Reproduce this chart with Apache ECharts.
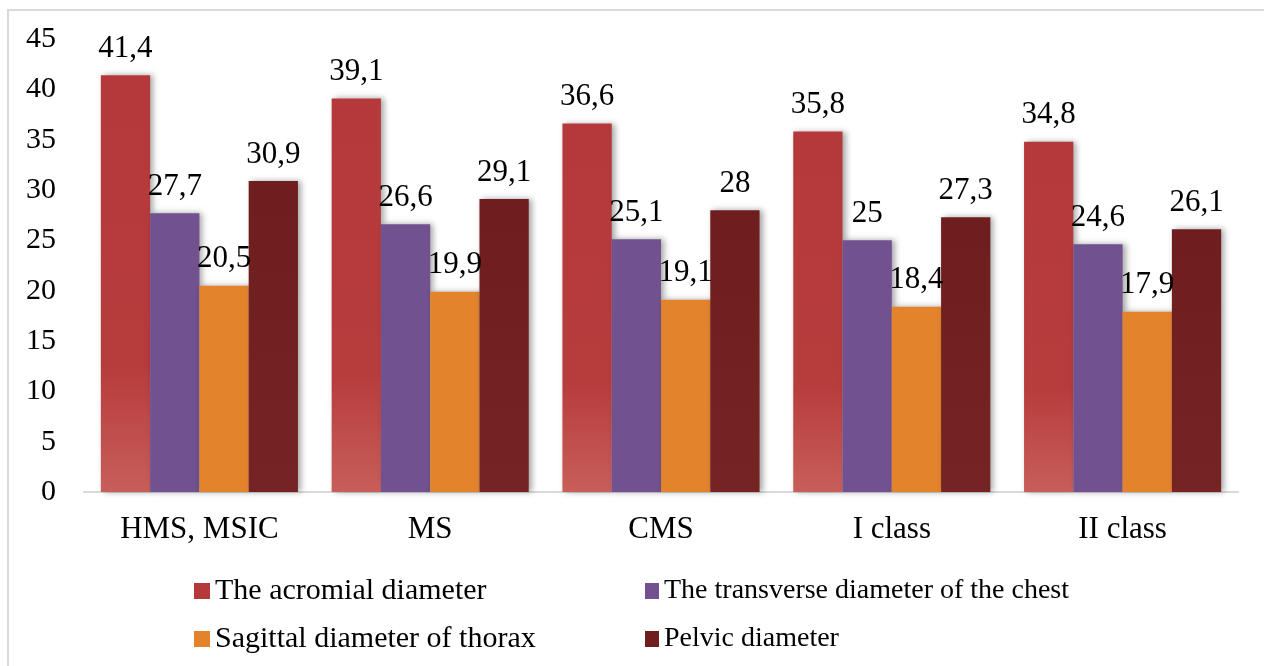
<!DOCTYPE html>
<html>
<head>
<meta charset="utf-8">
<style>
  html, body { margin: 0; padding: 0; background: #fff; }
  #chart { width: 1264px; height: 666px; }
</style>
<script src="https://cdn.jsdelivr.net/npm/echarts@6/dist/echarts.min.js"></script>
</head>
<body>
<div id="chart"></div>
<script>
// Body measurements by category (values in cm)
const categories = ['HMS, MSIC', 'MS', 'CMS', 'I class', 'II class'];
const seriesNames = [
  'The acromial diameter',
  'The transverse diameter of the chest',
  'Sagittal diameter of thorax',
  'Pelvic diameter'
];
const acromial   = [41.4, 39.1, 36.6, 35.8, 34.8];
const transverse = [27.7, 26.6, 25.1, 25.0, 24.6];
const sagittal   = [20.5, 19.9, 19.1, 18.4, 17.9];
const pelvic     = [30.9, 29.1, 28.0, 27.3, 26.1];
const yTicks = { min: 0, max: 45, interval: 5 };

const FONT = '"Liberation Serif", "Times New Roman", serif';

const colors = ['#B5393A', '#71518F', '#E3832C', '#6F1E1E'];
const fills = [
  { type: 'linear', x: 0, y: 0, x2: 0, y2: 1,
    colorStops: [{ offset: 0, color: '#B5393A' }, { offset: 0.7, color: '#B73C3C' }, { offset: 1, color: '#C85E59' }] },
  '#71518F',
  '#E3832C',
  { type: 'linear', x: 0, y: 0, x2: 0, y2: 1,
    colorStops: [{ offset: 0, color: '#6E1E1E' }, { offset: 1, color: '#762323' }] }
];
const values = [acromial, transverse, sagittal, pelvic];

const fmt = p => String(p.value).replace('.', ',');

const series = values.map((vals, i) => ({
  name: seriesNames[i],
  type: 'bar',
  data: vals,
  barGap: '0%',
  barCategoryGap: '14.6%',
  itemStyle: {
    color: fills[i],
    shadowColor: 'rgba(0,0,0,0.35)',
    shadowBlur: 6,
    shadowOffsetX: 3,
    shadowOffsetY: 0
  },
  label: {
    show: true,
    position: 'top',
    distance: 11,
    formatter: fmt,
    fontFamily: FONT,
    fontSize: 31,
    color: '#000'
  }
}));

const legendItem = i => ({ name: seriesNames[i], itemStyle: { color: colors[i] } });

const chart = echarts.init(document.getElementById('chart'), null, { renderer: 'canvas' });
chart.setOption({
  backgroundColor: '#fff',
  animation: false,
  graphic: [{
    type: 'rect',
    shape: { x: 8, y: 10, width: 1280, height: 680 },
    style: { fill: 'none', stroke: '#D9D9D9', lineWidth: 2 },
    silent: true,
    z: -1
  }],
  grid: { left: 84, right: 26, top: 39, bottom: 174, containLabel: false },
  legend: [
    {
      orient: 'vertical', left: 194, top: 576, padding: 0, itemGap: 18,
      itemWidth: 16, itemHeight: 16, icon: 'rect',
      textStyle: { fontFamily: FONT, fontSize: 30, color: '#000' },
      data: [legendItem(0), legendItem(2)]
    },
    {
      orient: 'vertical', left: 645, top: 576, padding: 0, itemGap: 18,
      itemWidth: 14, itemHeight: 16, icon: 'rect',
      textStyle: { fontFamily: FONT, fontSize: 28, color: '#000', lineHeight: 30 },
      data: [legendItem(1), legendItem(3)]
    }
  ],
  xAxis: {
    type: 'category',
    data: categories,
    axisLine: { show: true, lineStyle: { color: '#D9D9D9', width: 2 } },
    axisTick: { show: false },
    axisLabel: { fontFamily: FONT, fontSize: 31, color: '#000', margin: 22 }
  },
  yAxis: {
    type: 'value',
    min: yTicks.min, max: yTicks.max, interval: yTicks.interval,
    axisLine: { show: false },
    axisTick: { show: false },
    splitLine: { show: false },
    axisLabel: { fontFamily: FONT, fontSize: 30, color: '#000', margin: 28 }
  },
  series: series
});
</script>
</body>
</html>
